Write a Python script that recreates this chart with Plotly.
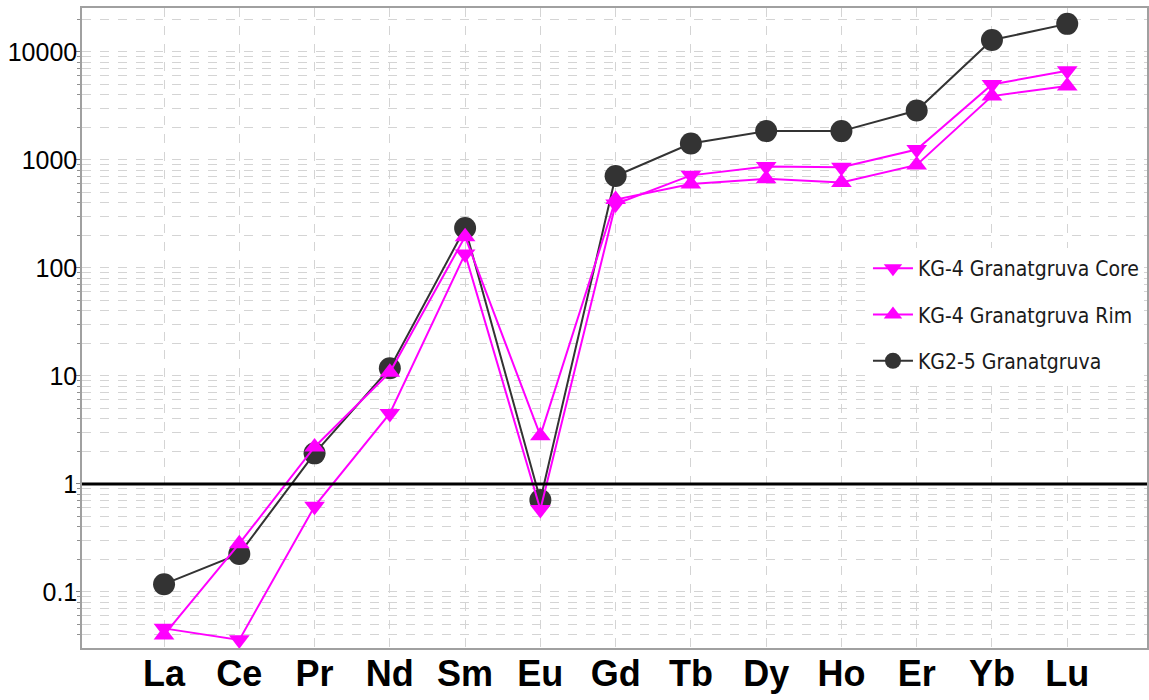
import plotly.graph_objects as go

elements = ["La", "Ce", "Pr", "Nd", "Sm", "Eu", "Gd", "Tb", "Dy", "Ho", "Er", "Yb", "Lu"]

kg4_core = [0.046, 0.036, 0.62, 4.5, 135, 0.58, 390, 720, 870, 855, 1250, 5000, 6700]
kg4_rim = [0.040, 0.28, 2.2, 10.8, 195, 2.8, 430, 600, 670, 620, 900, 3900, 4850]
kg2_5 = [0.118, 0.225, 1.92, 11.8, 234, 0.71, 710, 1420, 1850, 1850, 2870, 12900, 18200]

y_tick_vals = [0.1, 1, 10, 100, 1000, 10000]
y_tick_text = ["0.1", "1", "10", "100", "1000", "10000"]
y_minor_vals = [m * 10 ** e for e in range(-2, 5) for m in range(2, 10)]
reference_level = 1

MAGENTA = "#FF00FF"
DARK = "#333333"
GRID = "#d4d4d4"

fig = go.Figure()

fig.add_trace(go.Scatter(
    x=elements, y=kg2_5, name="KG2-5 Granatgruva", mode="lines+markers",
    line=dict(color=DARK, width=2),
    marker=dict(symbol="circle", size=22, color=DARK),
    legendrank=3, legendgroup="c",
))
fig.add_trace(go.Scatter(
    x=elements, y=kg4_rim, name="KG-4 Granatgruva Rim", mode="lines+markers",
    line=dict(color=MAGENTA, width=2),
    marker=dict(symbol="triangle-up", size=18, color=MAGENTA),
    legendrank=2, legendgroup="b",
))
fig.add_trace(go.Scatter(
    x=elements, y=kg4_core, name="KG-4 Granatgruva Core", mode="lines+markers",
    line=dict(color=MAGENTA, width=2),
    marker=dict(symbol="triangle-down", size=18, color=MAGENTA),
    legendrank=1, legendgroup="a",
))

fig.add_shape(type="line", xref="paper", x0=0, x1=1, yref="y",
              y0=reference_level, y1=reference_level,
              line=dict(color="black", width=3), layer="above")

fig.update_layout(
    width=1149, height=700,
    margin=dict(l=82, r=2, t=8, b=52, autoexpand=False),
    paper_bgcolor="white", plot_bgcolor="white",
    font=dict(family="Liberation Sans, Arial, sans-serif", color="black"),
    legend=dict(
        x=0.738, y=0.625, xanchor="left", yanchor="top",
        bgcolor="white", borderwidth=0,
        traceorder="grouped", tracegroupgap=16,
        font=dict(family="DejaVu Sans Condensed, DejaVu Sans, sans-serif",
                  size=21, color="#1a1a1a"),
        itemwidth=40,
    ),
    xaxis=dict(
        type="category", range=[-1.09, 13.06],
        showgrid=True, gridcolor=GRID, griddash="dash", gridwidth=1,
        showline=True, linecolor="#a0a0a0", linewidth=1.5, mirror=True,
        ticks="", tickfont=dict(size=36, family="Liberation Sans, Arial, sans-serif",
                                color="black", weight="bold"),
        ticklabelstandoff=-7,
        zeroline=False,
    ),
    yaxis=dict(
        type="log", range=[-1.519, 4.407],
        tickvals=y_tick_vals, ticktext=y_tick_text,
        tickfont=dict(size=25, family="Liberation Sans, Arial, sans-serif", color="black"),
        ticks="outside", ticklen=4, tickcolor="#808080",
        ticklabelstandoff=-6,
        showgrid=True, gridcolor=GRID, griddash="dash", gridwidth=1,
        minor=dict(tickvals=y_minor_vals, showgrid=True, gridcolor=GRID,
                   griddash="dash", ticks="outside", ticklen=3, tickcolor="#909090"),
        showline=True, linecolor="#a0a0a0", linewidth=1.5, mirror=True,
        zeroline=False,
    ),
)

fig.write_html("out.html")
